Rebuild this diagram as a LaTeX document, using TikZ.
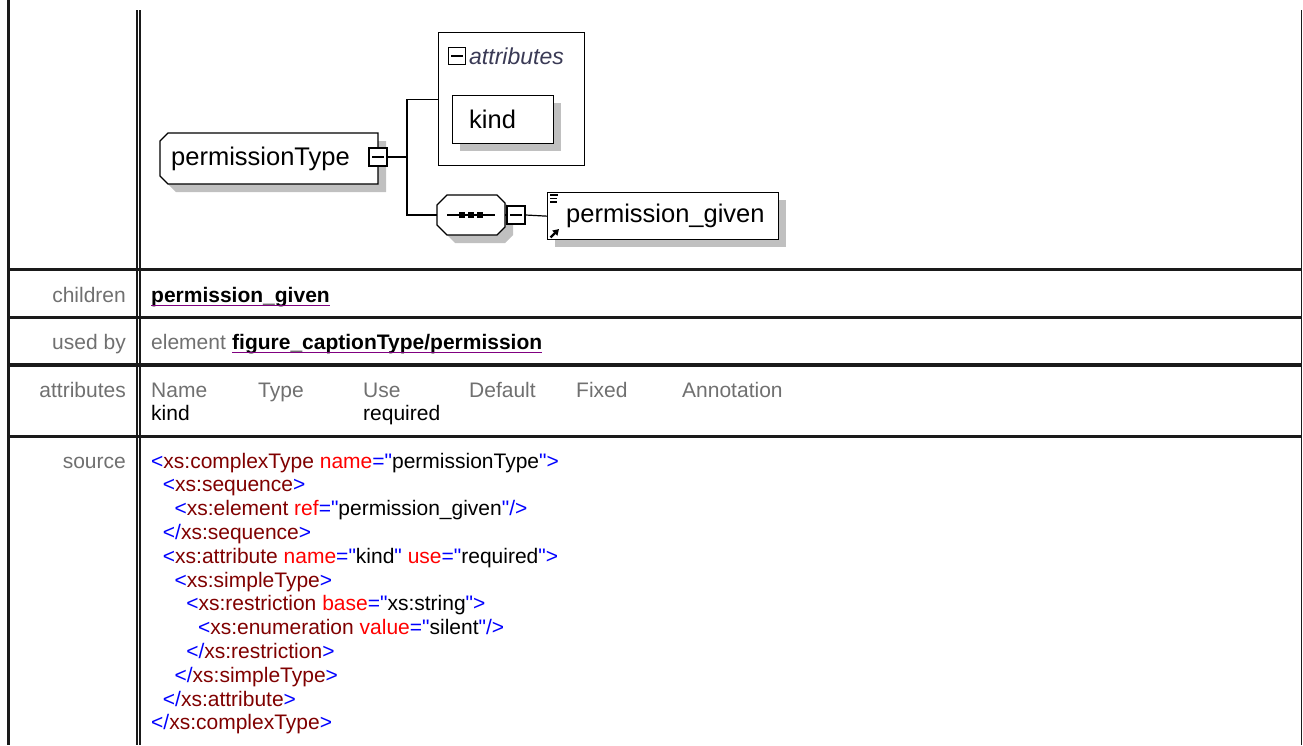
\documentclass[tikz,border=0pt]{standalone}
\usepackage{fontspec}
\setmainfont{Liberation Sans}[Ligatures=TeXOff]
\usetikzlibrary{calc,arrows.meta}
\definecolor{xblue}{HTML}{0000FF}
\definecolor{xdred}{HTML}{800000}
\definecolor{xred}{HTML}{FF0000}
\definecolor{lblgray}{HTML}{707070}
\definecolor{shadowgray}{HTML}{C0C0C0}
\definecolor{linkline}{HTML}{800080}
\definecolor{attrtxt}{HTML}{3A3A55}
\definecolor{gridline}{HTML}{1A1A1A}
\newcommand{\xmlB}[1]{\textcolor{xblue}{#1}}
\newcommand{\xmlD}[1]{\textcolor{xdred}{#1}}
\newcommand{\xmlR}[1]{\textcolor{xred}{#1}}
\begin{document}
\begin{tikzpicture}[x=1pt,y=-1pt,line join=miter,
  txt/.style={inner sep=0pt,anchor=base west,font=\fontsize{21}{24}\selectfont},
  lbl/.style={inner sep=0pt,anchor=base east,font=\fontsize{21}{24}\selectfont,text=lblgray},
  hdr/.style={txt,text=lblgray},
  lnk/.style={txt,font=\fontsize{21}{24}\selectfont\bfseries},
  dtxt/.style={inner sep=0pt,anchor=base west,font=\fontsize{25.5}{28}\selectfont,text=black},
  box/.style={draw=black,fill=white,line width=1.3pt,inner sep=0pt,anchor=north west},
  minusbox/.style={draw=black,fill=white,line width=1.2pt,minimum size=18pt,inner sep=0pt},
  shadow/.style={fill=shadowgray},
  conn/.style={draw=black,line width=1.2pt},
  grid/.style={draw=gridline},
  uline/.style={draw=linkline,line width=1pt}]
\useasboundingbox[fill=white] (0,0) rectangle (1303,745);

% ---------------- table grid ----------------
\draw[grid,line width=3pt] (8.5,0) -- (8.5,745);
\draw[grid,line width=1.5pt] (137,10) -- (137,745);
\draw[grid,line width=1.5pt] (140,10) -- (140,745);
\draw[grid,line width=1.5pt] (1301.5,10) -- (1301.5,745);
\foreach \yy in {269.5,317.5,365,436.5}
  \draw[grid,line width=3.5pt] (7,\yy) -- (1302.3,\yy);

% ---------------- diagram ----------------
% permissionType
\fill[shadow] (176,141) -- (386,141) -- (386,192) -- (176,192) -- (168,184) -- (168,149) -- cycle;
\filldraw[fill=white,draw=black,line width=1.3pt] (168,133) -- (378,133) -- (378,184) -- (168,184) -- (160,176) -- (160,141) -- cycle;
\node[dtxt] (pt) at (171,165) {permissionType};
\node[minusbox] (ptm) at (378,157) {};
\draw[line width=1.2pt] ([xshift=4pt]ptm.west) -- ([xshift=-4pt]ptm.east);
\coordinate (j) at (407,157);

% attributes group
\node[box,minimum width=146pt,minimum height=133pt] (attr) at (438,32) {};
\node[minusbox,minimum size=17pt] (am) at (457,56) {};
\draw[line width=1.2pt] ([xshift=3.5pt]am.west) -- ([xshift=-3.5pt]am.east);
\node[inner sep=0pt,anchor=base west,font=\fontsize{23}{26}\selectfont\itshape,text=attrtxt] (attrt) at (469,64) {attributes};
\fill[shadow] (460,103) rectangle (561,151);
\node[box,minimum width=101pt,minimum height=48pt] (kind) at (452,95) {};
\node[dtxt] (kindt) at (469,128) {kind};

% sequence
\fill[shadow] (455,203) -- (505,203) -- (513,211) -- (513,235) -- (505,243) -- (455,243) -- (445,233) -- (445,213) -- cycle;
\filldraw[fill=white,draw=black,line width=1.3pt] (447,195) -- (497,195) -- (505,203) -- (505,227) -- (497,235) -- (447,235) -- (437,225) -- (437,205) -- cycle;
\node[inner sep=0pt,minimum width=68pt,minimum height=40pt] (seq) at (471,215) {};
\draw[line width=1.2pt] (447,215) -- (495,215);
\fill (459,212) rectangle (465,218);
\fill (468,212) rectangle (474,218);
\fill (477,212) rectangle (483,218);
\node[minusbox] (sm) at (516,215) {};
\draw[line width=1.2pt] ([xshift=4pt]sm.west) -- ([xshift=-4pt]sm.east);

% permission_given
\fill[shadow] (555,200) rectangle (786,247);
\node[box,minimum width=231pt,minimum height=47pt] (pg) at (547,192) {};
\draw[line width=1.2pt] (550,195) -- (558,195) (550,198.5) -- (557,198.5) (550,202) -- (557,202);
\draw[line width=2.2pt,-{Triangle[length=6pt,width=7pt]}] (550.5,237.5) -- (559,229);
\node[dtxt] (pgt) at (566,222) {permission\_given};

% connectors
\draw[conn] (ptm.east) -- (j);
\draw[conn] (j) |- (attr.west);
\draw[conn] (j) |- (seq.west);
\draw[conn] (seq.east) -- (sm.west);
\draw[conn] (sm.east) -- (pg.west);

% ---------------- rows ----------------
\node[lbl] (l1) at (126,302) {children};
\node[lnk] (ch) at (151,302) {permission\_given};
\draw[uline] ($(ch.base west)+(0,3)$) -- ($(ch.base east)+(0,3)$);

\node[lbl] (l2) at (126,349) {used by};
\node[hdr] (el) at (151,349) {element};
\node[lnk] (ub) at (232,349) {figure\_captionType/permission};
\draw[uline] ($(ub.base west)+(0,3)$) -- ($(ub.base east)+(0,3)$);

\node[lbl] (l3) at (126,397) {attributes};
\node[hdr] (h1) at (151,397) {Name};
\node[hdr] (h2) at (258,397) {Type};
\node[hdr] (h3) at (363,397) {Use};
\node[hdr] (h4) at (469,397) {Default};
\node[hdr] (h5) at (576,397) {Fixed};
\node[hdr] (h6) at (682,397) {Annotation};
\node[txt] (v1) at (151,420) {kind};
\node[txt] (v3) at (363,420) {required};

\node[lbl] (l4) at (126,468) {source};
\node[txt] (c1) at (151,468) {\xmlB{<}\xmlD{xs:complexType} \xmlR{name}\xmlB{="}permissionType\xmlB{">}};
\node[txt] (c2) at (162.7,491.8) {\xmlB{<}\xmlD{xs:sequence}\xmlB{>}};
\node[txt] (c3) at (174.4,515.6) {\xmlB{<}\xmlD{xs:element} \xmlR{ref}\xmlB{="}permission\_given\xmlB{"/>}};
\node[txt] (c4) at (162.7,539.4) {\xmlB{</}\xmlD{xs:sequence}\xmlB{>}};
\node[txt] (c5) at (162.7,563.2) {\xmlB{<}\xmlD{xs:attribute} \xmlR{name}\xmlB{="}kind\xmlB{"} \xmlR{use}\xmlB{="}required\xmlB{">}};
\node[txt] (c6) at (174.4,587) {\xmlB{<}\xmlD{xs:simpleType}\xmlB{>}};
\node[txt] (c7) at (186.1,610.8) {\xmlB{<}\xmlD{xs:restriction} \xmlR{base}\xmlB{="}xs:string\xmlB{">}};
\node[txt] (c8) at (197.8,634.6) {\xmlB{<}\xmlD{xs:enumeration} \xmlR{value}\xmlB{="}silent\xmlB{"/>}};
\node[txt] (c9) at (186.1,658.4) {\xmlB{</}\xmlD{xs:restriction}\xmlB{>}};
\node[txt] (c10) at (174.4,682.2) {\xmlB{</}\xmlD{xs:simpleType}\xmlB{>}};
\node[txt] (c11) at (162.7,706) {\xmlB{</}\xmlD{xs:attribute}\xmlB{>}};
\node[txt] (c12) at (151,729.8) {\xmlB{</}\xmlD{xs:complexType}\xmlB{>}};
\end{tikzpicture}
\end{document}
